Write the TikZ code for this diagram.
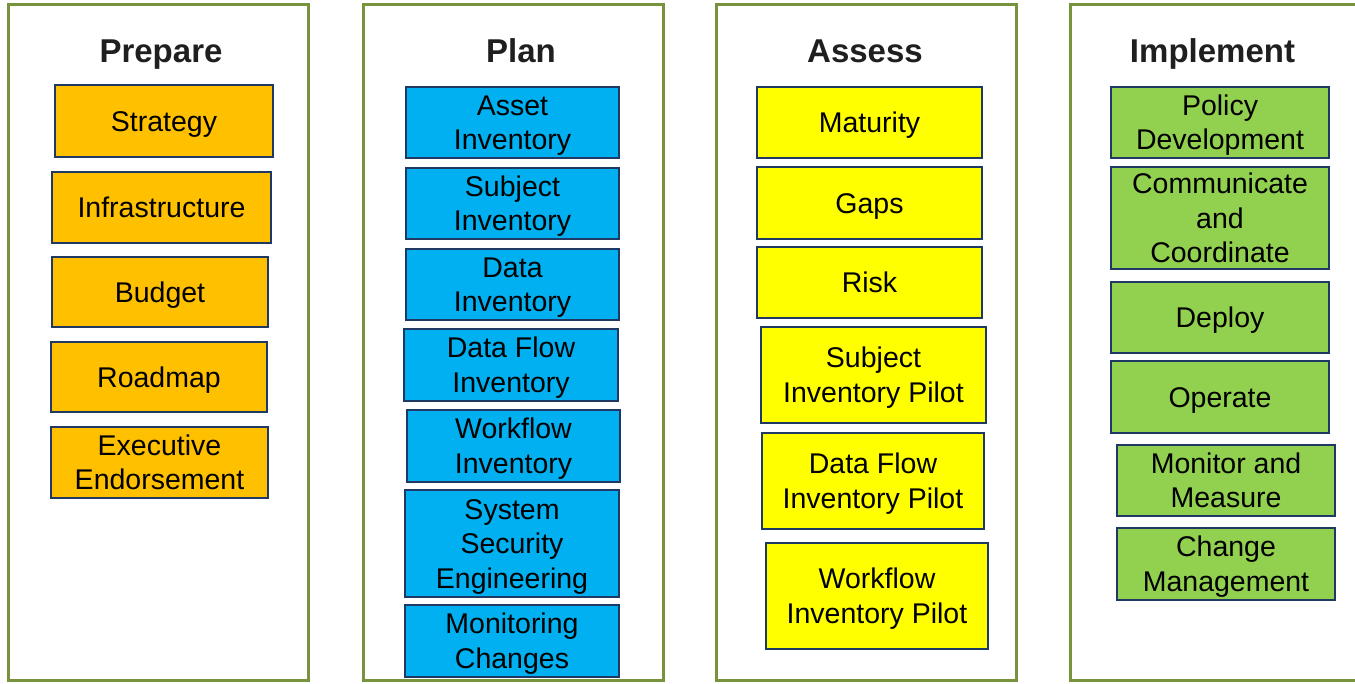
\documentclass[tikz,border=0pt]{standalone}
\usepackage{fontspec}
\setmainfont{Liberation Sans}
\definecolor{frameg}{HTML}{77933C}
\definecolor{navy}{HTML}{1F3864}
\definecolor{cOrange}{HTML}{FFC000}
\definecolor{cBlue}{HTML}{00B0F0}
\definecolor{cYellow}{HTML}{FFFF00}
\definecolor{cGreen}{HTML}{92D050}
\newcommand\myst{\rule[-6.3pt]{0pt}{33pt}}
\begin{document}
\begin{tikzpicture}[x=1pt,y=-1pt,
  colframe/.style={draw=frameg,line width=3pt,fill=white},
  coltitle/.style={anchor=base,font=\bfseries\fontsize{33}{38}\selectfont,text=black!88,inner sep=0pt},
  bx/.style={draw=navy,line width=2.8pt,rectangle,inner sep=0pt,align=center,
    font=\fontsize{28.5}{34.5}\selectfont,text=black},
  bxo/.style={bx,fill=cOrange},
  bxb/.style={bx,fill=cBlue},
  bxy/.style={bx,fill=cYellow},
  bxg/.style={bx,fill=cGreen}]
\useasboundingbox (0,0) rectangle (1355,683);
\clip (0,0) rectangle (1355,683);
\fill[white] (0,0) rectangle (1355,683);
% column frames
\draw[colframe] (8.5,4.5) rectangle (308,680.5);
\draw[colframe] (363,4.5) rectangle (663,680.5);
\draw[colframe] (716.5,4.5) rectangle (1016,680.5);
\draw[colframe] (1070.5,4.5) rectangle (1375,680.5);
% titles
\node[coltitle] (tPrepare) at (161,62) {Prepare};
\node[coltitle] (tPlan) at (521,62) {Plan};
\node[coltitle] (tAssess) at (865,62) {Assess};
\node[coltitle] (tImplement) at (1212.5,62) {Implement};
% Prepare
\node[bxo,minimum width=218pt,minimum height=72pt] (strategy) at (164,121) {\myst Strategy};
\node[bxo,minimum width=219pt,minimum height=71pt] (infra) at (161.5,207.5) {\myst Infrastructure};
\node[bxo,minimum width=216pt,minimum height=70pt] (budget) at (160,292) {\myst Budget};
\node[bxo,minimum width=216pt,minimum height=70pt] (roadmap) at (159,377) {\myst Roadmap};
\node[bxo,minimum width=217pt,minimum height=71pt] (exec) at (159.5,462.5) {\myst Executive\\\myst Endorsement};
% Plan
\node[bxb,minimum width=213pt,minimum height=71pt] (asset) at (512.5,122.5) {\myst Asset\\\myst Inventory};
\node[bxb,minimum width=213pt,minimum height=71pt] (subject) at (512.5,203.5) {\myst Subject\\\myst Inventory};
\node[bxb,minimum width=213pt,minimum height=71pt] (data) at (512.5,284.5) {\myst Data\\\myst Inventory};
\node[bxb,minimum width=214pt,minimum height=72pt] (dataflow) at (511,365) {\myst Data Flow\\\myst Inventory};
\node[bxb,minimum width=213pt,minimum height=72pt] (workflow) at (513.5,446) {\myst Workflow\\\myst Inventory};
\node[bxb,minimum width=214pt,minimum height=107pt] (syssec) at (512,543.5) {\myst System\\\myst Security\\\myst Engineering};
\node[bxb,minimum width=214pt,minimum height=72pt] (monchg) at (512,641) {\myst Monitoring\\\myst Changes};
% Assess
\node[bxy,minimum width=225pt,minimum height=71pt] (maturity) at (869.5,122.5) {\myst Maturity};
\node[bxy,minimum width=225pt,minimum height=72pt] (gaps) at (869.5,203) {\myst Gaps};
\node[bxy,minimum width=225pt,minimum height=71pt] (risk) at (869.5,282.5) {\myst Risk};
\node[bxy,minimum width=225pt,minimum height=96pt] (subjpilot) at (873.5,375) {\myst Subject\\\myst Inventory Pilot};
\node[bxy,minimum width=222pt,minimum height=96pt] (dfpilot) at (873,481) {\myst Data Flow\\\myst Inventory Pilot};
\node[bxy,minimum width=222pt,minimum height=106pt] (wfpilot) at (877,596) {\myst Workflow\\\myst Inventory Pilot};
% Implement
\node[bxg,minimum width=218pt,minimum height=71pt] (policy) at (1220,122.5) {\myst Policy\\\myst Development};
\node[bxg,minimum width=218pt,minimum height=102pt] (comm) at (1220,218) {\myst Communicate\\\myst and\\\myst Coordinate};
\node[bxg,minimum width=218pt,minimum height=71pt] (deploy) at (1220,317.5) {\myst Deploy};
\node[bxg,minimum width=218pt,minimum height=72pt] (operate) at (1220,397) {\myst Operate};
\node[bxg,minimum width=218pt,minimum height=71pt] (monmeas) at (1226,480.5) {\myst Monitor and\\\myst Measure};
\node[bxg,minimum width=218pt,minimum height=72pt] (change) at (1226,564) {\myst Change\\\myst Management};
\end{tikzpicture}
\end{document}
